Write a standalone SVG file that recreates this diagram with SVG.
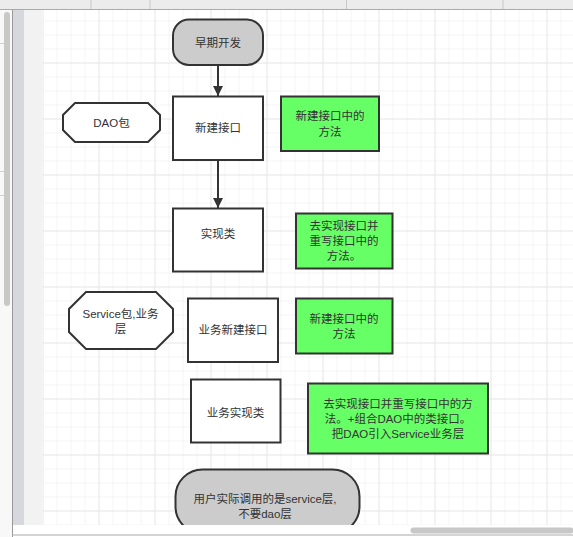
<svg xmlns="http://www.w3.org/2000/svg" width="573" height="537" viewBox="0 0 573 537">
<defs>
<style>
.t{font-family:"Liberation Sans","Noto Sans CJK SC",sans-serif;font-size:11.5px;fill:#333;text-anchor:middle;dominant-baseline:central}
.box{fill:#fff;stroke:#333;stroke-width:2}
.green{fill:#66ff66;stroke:#333;stroke-width:2}
.gray{fill:#cccccc;stroke:#333;stroke-width:2}
.edge{stroke:#333;stroke-width:2;fill:none}
</style>
<pattern id="minor" x="42.5" y="6.5" width="14" height="14" patternUnits="userSpaceOnUse">
<path d="M0 0H14M0 0V14" fill="none" stroke="#ebebeb" stroke-width="1"/>
</pattern>
<pattern id="major" x="42.5" y="6.5" width="56" height="56" patternUnits="userSpaceOnUse">
<path d="M0 0H56M0 0V56" fill="none" stroke="#dcdcdc" stroke-width="1"/>
</pattern>
<marker id="arr" viewBox="0 0 10 10" refX="10" refY="5" markerWidth="5" markerHeight="5" orient="auto" markerUnits="strokeWidth">
<path d="M0 0L10 5L0 10z" fill="#333"/>
</marker>
<clipPath id="canvas"><rect x="42.5" y="10" width="531" height="515"/></clipPath>
</defs>
<rect width="573" height="537" fill="#ffffff"/>
<g id="chrome">
<rect x="0" y="0" width="573" height="9.5" fill="#ececec"/>
<line x1="0" y1="9.5" x2="573" y2="9.5" stroke="#aaaaaa"/>
<line x1="91" y1="0" x2="91" y2="9" stroke="#c8c8c8"/>
<line x1="150" y1="0" x2="150" y2="9" stroke="#c8c8c8"/>
<line x1="346.5" y1="0" x2="346.5" y2="9" stroke="#c8c8c8"/>
<line x1="503" y1="0" x2="503" y2="9" stroke="#c8c8c8"/>
<rect x="0" y="10" width="12" height="527" fill="#f8f8f8"/>
<rect x="4" y="12" width="6" height="294" rx="3" fill="#c8c8c8"/>
<line x1="0" y1="43.5" x2="4" y2="43.5" stroke="#d0d0d0"/>
<line x1="0" y1="171.5" x2="4" y2="171.5" stroke="#d0d0d0"/>
<line x1="0" y1="195.5" x2="4" y2="195.5" stroke="#d0d0d0"/>
<rect x="13" y="10" width="11" height="515" fill="#d6d8de"/>
<rect x="24" y="10" width="18.5" height="515" fill="#f2f2f2"/>
<line x1="12.5" y1="10" x2="12.5" y2="537" stroke="#999999"/>
<rect x="42.5" y="10" width="531" height="515" fill="#ffffff"/>
<rect x="42.5" y="10" width="531" height="515" fill="url(#minor)"/>
<rect x="42.5" y="10" width="531" height="515" fill="url(#major)"/>
<rect x="410.5" y="527.5" width="163" height="6" rx="3" fill="#c8c8c8"/>
<line x1="12" y1="535" x2="573" y2="535" stroke="#aaaaaa"/>
</g>
<g clip-path="url(#canvas)">
<g id="connectors">
<line class="edge" x1="218" y1="65" x2="218" y2="96" marker-end="url(#arr)"/>
<line class="edge" x1="218" y1="160" x2="218" y2="208" marker-end="url(#arr)"/>
</g>
<g id="n-start">
<rect class="gray" x="173" y="19.5" width="90" height="45.5" rx="16"/>
<text class="t" x="218" y="43">早期开发</text>
</g>
<g id="n-dao">
<polygon class="box" points="75,103 148,103 160,115 160,130 148,142 75,142 63,130 63,115"/>
<text class="t" x="111.5" y="122.5">DAO包</text>
</g>
<g id="n-iface">
<rect class="box" x="173" y="96.5" width="90" height="63.5"/>
<text class="t" x="218" y="128">新建接口</text>
</g>
<g id="n-note1">
<rect class="green" x="281" y="96.5" width="98" height="54.5"/>
<text class="t" x="330" y="116">新建接口中的</text>
<text class="t" x="330" y="131.5">方法</text>
</g>
<g id="n-impl">
<rect class="box" x="173" y="208.5" width="90" height="63"/>
<text class="t" x="218" y="233.5">实现类</text>
</g>
<g id="n-note2">
<rect class="green" x="296" y="213.5" width="96.5" height="55"/>
<text class="t" x="344" y="225.5">去实现接口并</text>
<text class="t" x="344" y="240.5">重写接口中的</text>
<text class="t" x="344" y="255.5">方法。</text>
</g>
<g id="n-service">
<polygon class="box" points="86,292 156,292 173,309 173,332 156,349 86,349 69,332 69,309"/>
<text class="t" x="120.5" y="314">Service包,业务</text>
<text class="t" x="120.5" y="329">层</text>
</g>
<g id="n-siface">
<rect class="box" x="188" y="298.5" width="90" height="63.5"/>
<text class="t" x="233" y="330">业务新建接口</text>
</g>
<g id="n-note3">
<rect class="green" x="296" y="298.5" width="96.5" height="55"/>
<text class="t" x="344" y="318.5">新建接口中的</text>
<text class="t" x="344" y="333.5">方法</text>
</g>
<g id="n-simpl">
<rect class="box" x="191" y="379.5" width="89.5" height="63"/>
<text class="t" x="235.5" y="412.5">业务实现类</text>
</g>
<g id="n-note4">
<rect class="green" x="308" y="383.5" width="180" height="70"/>
<text class="t" x="398" y="404">去实现接口并重写接口中的方</text>
<text class="t" x="398" y="419">法。+组合DAO中的类接口。</text>
<text class="t" x="398" y="434"> 把DAO引入Service业务层</text>
</g>
<g id="n-end">
<rect class="gray" x="175.5" y="469.5" width="184" height="64" rx="27"/>
<text class="t" x="265" y="498.5">用户实际调用的是service层,</text>
<text class="t" x="265" y="514">不要dao层</text>
</g>
</g>
</svg>
